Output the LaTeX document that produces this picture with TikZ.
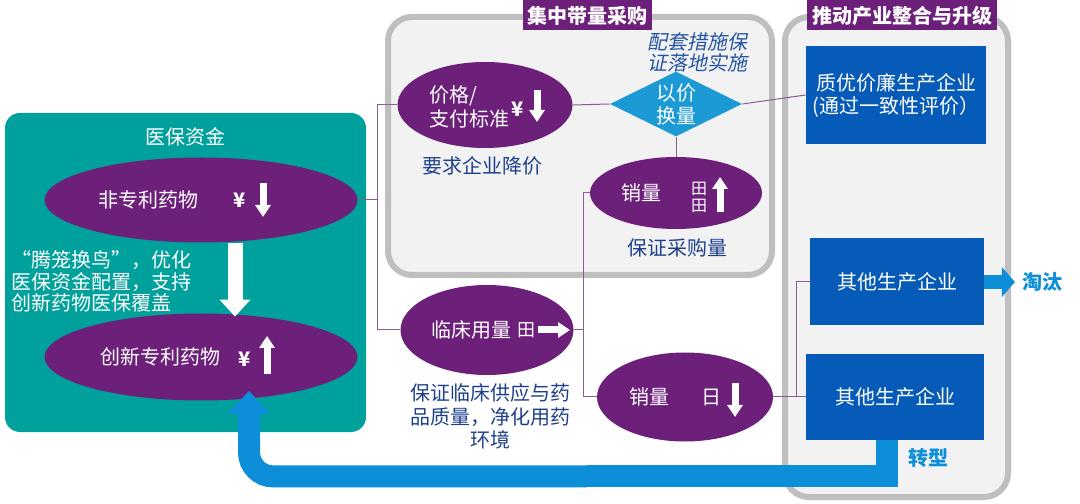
\documentclass[tikz,border=0pt]{standalone}
\usepackage{fontspec}
\setmainfont{Noto Sans CJK SC}
\newfontfamily\cjkslant{Noto Sans CJK SC}[FakeSlant=0.2]
\usetikzlibrary{shapes.geometric,arrows.meta,positioning,calc}
\definecolor{medteal}{RGB}{0,161,156}
\definecolor{ovalpurple}{RGB}{108,32,122}
\definecolor{panelgray}{RGB}{242,242,242}
\definecolor{panelline}{RGB}{191,191,191}
\definecolor{firmblue}{RGB}{6,91,184}
\definecolor{dmdblue}{RGB}{28,154,214}
\definecolor{flowblue}{RGB}{12,143,216}
\definecolor{notenavy}{RGB}{30,64,140}
\definecolor{slantblue}{RGB}{36,84,164}
\definecolor{linkmauve}{RGB}{140,92,150}
\tikzset{
  panel/.style={rectangle, draw=panelline, line width=3pt, fill=panelgray, rounded corners=12pt},
  fundbox/.style={rectangle, fill=medteal, rounded corners=7.5pt},
  tag/.style={rectangle, fill=ovalpurple, text=white, font=\bfseries, inner sep=0pt, minimum height=15pt},
  oval/.style={ellipse, fill=ovalpurple, inner sep=0pt},
  ovaltxt/.style={text=white, align=left, font=\fontsize{10}{12}\selectfont, inner sep=0pt},
  dmd/.style={diamond, aspect=2, fill=dmdblue, text=white, align=center, inner sep=0pt,
    font=\fontsize{10}{11.5}\selectfont},
  firm/.style={rectangle, fill=firmblue, text=white, align=center, font=\fontsize{10}{11.5}\selectfont},
  note/.style={text=notenavy, align=center, font=\fontsize{10}{11.75}\selectfont},
  link/.style={draw=linkmauve, line width=0.5pt},
  blkarrow/.style={white, line width=3.5pt, -{Triangle[length=6pt,width=7.5pt]}},
  bigarrow/.style={white, line width=7.5pt, -{Triangle[length=8.5pt,width=15pt]}},
  flow/.style={flowblue, line width=11pt},
}
\begin{document}
\begin{tikzpicture}[x=0.5pt, y=0.5pt]
\useasboundingbox (0,0) rectangle (1080,503);

% panels
\node[panel, minimum width=192pt, minimum height=129pt] (vbp) at (580,357) {};
\node[panel, minimum width=111.5pt, minimum height=240pt] (ind) at (896.5,246) {};
\node[fundbox, minimum width=180.5pt, minimum height=159.5pt] (fund) at (185.5,230.5) {};
\node[tag, minimum width=64.5pt] (vbpttl) at (587,487.5) {集中带量采购};
\node[tag, minimum width=95pt] (indttl) at (902,487.5) {推动产业整合与升级};
\node[ovaltxt] (fundttl) at (185,366) {医保资金};

% drugs
\node[oval, minimum width=156.5pt, minimum height=42.5pt] (np) at (201,303) {};
\node[oval, minimum width=156.5pt, minimum height=43.5pt] (ni) at (201,146) {};
\node[ovaltxt] (nptxt) at ($(np)+(-53,0)$) {非专利药物};
\node[ovaltxt, font=\bfseries] (npyen) at ($(np)+(39,0)$) {¥};
\node[ovaltxt] (nitxt) at ($(ni)+(-41,0)$) {创新专利药物};
\node[ovaltxt, font=\bfseries] (niyen) at ($(ni)+(44,-2)$) {¥};
\node[ovaltxt, anchor=west, font=\fontsize{10}{10.75}\selectfont] (swap) at (11,221.5)
  {“腾笼换鸟”，优化\\医保资金配置，支持\\创新药物医保覆盖};

% procurement
\node[oval, minimum width=87.5pt, minimum height=43pt] (pr) at (485,398) {};
\node[ovaltxt] (prtxt) at ($(pr)+(-16,-2)$) {价格/\\支付标准};
\node[ovaltxt, font=\bfseries] (pryen) at ($(pr)+(33,-4)$) {¥};
\node[dmd, minimum width=66pt, minimum height=32.5pt] (yj) at (676,399) {以价\\换量};
\node[note, text=slantblue, font=\cjkslant\fontsize{10}{10.5}\selectfont] (aux) at (697,450.5) {配套措施保\\证落地实施};
\node[note] (cut) at (482,337) {要求企业降价};
\node[oval, minimum width=86pt, minimum height=36pt] (xl1) at (676,310) {};
\node[ovaltxt] (xl1txt) at ($(xl1)+(-35,0)$) {销量};
\node[ovaltxt, align=center, font=\fontsize{8}{8.5}\selectfont] (xl1unit) at ($(xl1)+(23,-4)$) {田\\田};
\node[note] (buy) at (677,255) {保证采购量};
\node[oval, minimum width=86.5pt, minimum height=45pt] (lc) at (487,173) {};
\node[ovaltxt] (lctxt) at ($(lc)+(-16,0)$) {临床用量};
\node[ovaltxt, font=\fontsize{9}{10}\selectfont] (lcunit) at ($(lc)+(39,0)$) {田};
\node[note] (supply) at (490,86.5) {保证临床供应与药\\品质量，净化用药\\环境};
\node[oval, minimum width=88pt, minimum height=44.5pt] (xl2) at (685,106) {};
\node[ovaltxt] (xl2txt) at ($(xl2)+(-36,0)$) {销量};
\node[ovaltxt] (xl2unit) at ($(xl2)+(26,0)$) {日};

% firms
\node[firm, minimum width=88pt, minimum height=49pt] (zy) at (896,408) {质优价廉生产企业\\(通过一致性评价）};
\node[firm, minimum width=87pt, minimum height=43.5pt] (ot1) at (897,221) {其他生产企业};
\node[firm, minimum width=89pt, minimum height=43pt] (ot2) at (895,106) {其他生产企业};
\node[text=flowblue, font=\bfseries] (weed) at (1042,221) {淘汰};
\node[text=flowblue, font=\bfseries] (turn) at (928,45) {转型};

% links
\coordinate (j1) at ($(np.east)+(20,0)$);
\draw[link] (np.east) -- (j1) |- (pr.west);
\draw[link] (j1) |- (lc.west);
\draw[link] (pr.east) -- (yj.west);
\draw[link] (yj.south) -- (xl1.north);
\draw[link] (yj.east) -- (zy.west);
\coordinate (j2) at ($(lc.east)+(10,0)$);
\draw[link] (lc.east) -- (j2) |- (xl1.west);
\draw[link] (j2) |- (xl2.west);
\coordinate (j3) at ($(xl2.east)+(23,0)$);
\draw[link] (xl2.east) -- (j3) |- (ot1.west);
\draw[link] (j3) |- (ot2.west);

% arrows
\draw[bigarrow] ([xshift=17pt]np.south) -- ([xshift=17pt,yshift=-1.75pt]ni.north);
\draw[blkarrow] ($(np)+(62,17)$) -- ($(np)+(62,-17)$);
\draw[blkarrow] ($(ni)+(66,-17)$) -- ($(ni)+(66,21)$);
\draw[blkarrow] ($(pr)+(52,15)$) -- ($(pr)+(52,-17)$);
\draw[blkarrow] ($(lc)+(51,0)$) -- ($(lc)+(83,0)$);
\draw[blkarrow] ($(xl1)+(44,-19)$) -- ($(xl1)+(44,16)$);
\draw[blkarrow] ($(xl2)+(50,14)$) -- ($(xl2)+(50,-20)$);
\draw[flowblue, line width=7pt, -{Triangle[length=6.5pt,width=14.5pt]}] (ot1.east) -- (weed.west);
\draw[flow] ([xshift=-4pt]ot2.south) -- ++(0,-36) -- ++(-300,0);
\draw[flow, rounded corners=12pt, -{Triangle[length=11.5pt,width=21pt]}]
  ($([xshift=-4pt]ot2.south)+(-300,-36)$) -| ([xshift=24pt,yshift=5pt]ni.south);
\end{tikzpicture}
\end{document}
